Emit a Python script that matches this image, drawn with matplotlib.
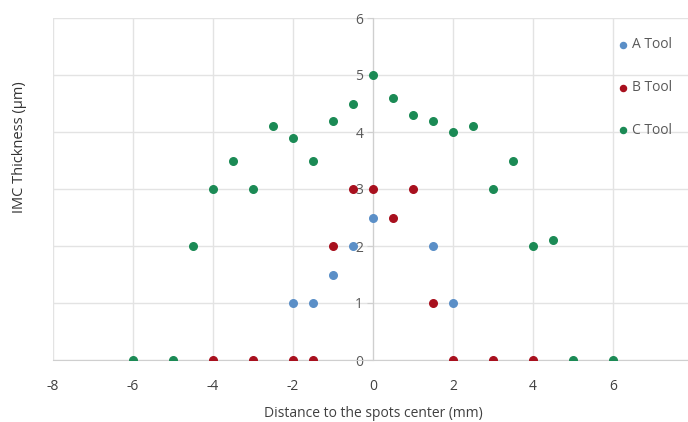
import numpy as np
import matplotlib
matplotlib.use('Agg')
import matplotlib.pyplot as plt

# data
a_x = [-2, -1.5, -1, -0.5, 0, 1.5, 2]
a_y = [1, 1, 1.5, 2, 2.5, 2, 1]

b_x = [-4, -3, -2, -1.5, -1, -0.5, 0, 0.5, 1, 1.5, 2, 3, 4]
b_y = [0, 0, 0, 0, 2, 3, 3, 2.5, 3, 1, 0, 0, 0]

c_x = [-6, -5, -4.5, -4, -3.5, -3, -2.5, -2, -1.5, -1, -0.5, 0,
       0.5, 1, 1.5, 2, 2.5, 3, 3.5, 4, 4.5, 5, 6]
c_y = [0, 0, 2, 3, 3.5, 3, 4.1, 3.9, 3.5, 4.2, 4.5, 5,
       4.6, 4.3, 4.2, 4.0, 4.1, 3, 3.5, 2, 2.1, 0, 0]

x_ticks = [-8, -6, -4, -2, 0, 2, 4, 6, 8]
y_ticks = [0, 1, 2, 3, 4, 5, 6]

plt.rcParams['font.family'] = ['Open Sans', 'DejaVu Sans']
plt.rcParams['axes.unicode_minus'] = False

fig = plt.figure(figsize=(6.88, 4.22), dpi=100)
ax = fig.add_axes([53 / 688, 62 / 422, 640 / 688, 342 / 422])

ax.scatter(a_x, a_y, s=30, color='#5b8fc7', label='A Tool', zorder=3)
ax.scatter(b_x, b_y, s=30, color='#a8101e', label='B Tool', zorder=3)
ax.scatter(c_x, c_y, s=30, color='#1b8a55', label='C Tool', zorder=3)

ax.set_xlim(-8, 8)
ax.set_ylim(0, 6)
ax.set_xticks(x_ticks)
ax.set_yticks(y_ticks)
ax.grid(True, color='#e3e3e3', linewidth=1)
ax.set_axisbelow(True)

# vertical axis crosses at x = 0, like Excel
ax.spines['left'].set_position(('data', 0))
ax.spines['left'].set_color('#cfcfcf')
ax.spines['bottom'].set_color('#cfcfcf')
ax.spines['top'].set_visible(False)
ax.spines['right'].set_visible(False)
ax.tick_params(axis='y', length=4, color='#cfcfcf', labelcolor='#595959', labelsize=10, pad=3)
ax.tick_params(axis='x', length=0, labelcolor='#404040', labelsize=10, pad=14)

ax.set_xlabel('Distance to the spots center (mm)', fontsize=10, color='#404040', labelpad=8)
fig.text(20 / 688, 1 - 147 / 422, 'IMC Thickness (µm)', rotation=90, fontsize=10.5,
         color='#333333', ha='center', va='center')

ax.legend(loc='upper left', bbox_to_anchor=(604 / 688, 1 - 25 / 422), bbox_transform=fig.transFigure,
          frameon=False, fontsize=10, labelcolor='#595959', handletextpad=0.1,
          labelspacing=2.0, handlelength=1.0, markerscale=0.8)

fig.savefig('out.png', dpi=100)
